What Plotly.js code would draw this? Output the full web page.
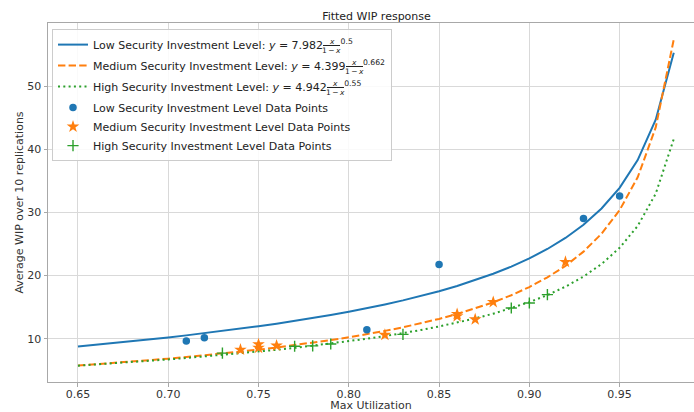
<!DOCTYPE html>
<html>
<head>
<meta charset="utf-8">
<script src="https://cdn.plot.ly/plotly-3.0.1.min.js"></script>
<style>html,body{margin:0;padding:0;background:#fff;}#chart{width:694px;height:412px;}</style>
</head>
<body>
<div id="chart"></div>
<script>
// Fitted curve sample points
const fitX = [0.65,0.66,0.67,0.68,0.69,0.70,0.71,0.72,0.73,0.74,0.75,0.76,0.77,0.78,0.79,0.80,0.81,0.82,0.83,0.84,0.85,0.86,0.87,0.88,0.89,0.90,0.91,0.92,0.93,0.94,0.95,0.96,0.97,0.98];
const lowFit = [8.77,9.04,9.31,9.60,9.89,10.20,10.52,10.86,11.21,11.58,11.97,12.38,12.82,13.27,13.76,14.28,14.83,15.43,16.07,16.76,17.52,18.35,19.26,20.28,21.42,22.72,24.21,25.96,28.06,30.63,33.91,38.31,44.70,55.31];
const medFit = [5.73,5.93,6.14,6.36,6.59,6.83,7.09,7.36,7.64,7.94,8.26,8.60,8.96,9.35,9.77,10.21,10.70,11.23,11.80,12.43,13.13,13.90,14.77,15.76,16.88,18.18,19.71,21.54,23.79,26.63,30.37,35.57,43.48,57.45];
const highFit = [5.72,5.90,6.09,6.29,6.49,6.71,6.93,7.17,7.41,7.67,7.95,8.23,8.54,8.87,9.21,9.58,9.98,10.41,10.87,11.37,11.93,12.53,13.21,13.96,14.81,15.78,16.91,18.24,19.84,21.83,24.39,27.86,32.98,41.65];

// Observed data points
const lowX = [0.71,0.72,0.81,0.85,0.93,0.95];
const lowY = [9.62,10.16,11.43,21.75,29.05,32.63];
const medX = [0.74,0.75,0.75,0.76,0.82,0.86,0.86,0.87,0.88,0.92];
const medY = [8.25,9.10,8.55,8.90,10.60,13.90,13.55,13.06,15.80,22.16];
const highX = [0.73,0.77,0.78,0.79,0.83,0.89,0.90,0.91];
const highY = [7.70,8.80,8.85,9.15,10.68,14.86,15.65,16.98];

// Legend texts (fraction x / (1 - x) is typeset into the gap after the coefficient)
const levelNames = ['Low','Medium','High'];
const coefs = ['7.982','4.399','4.942'];
const exps = ['0.5','0.662','0.55'];
const GAP = '\u00a0\u00a0\u00a0\u00a0\u00a0';
const fitNames = levelNames.map((l,i) => l + ' Security Investment Level: <i>y</i> = ' + coefs[i] + GAP + '<sup>' + exps[i] + '</sup>');
const pointNames = levelNames.map(l => l + ' Security Investment Level Data Points');
const colors = ['#1f77b4','#ff7f0e','#2ca02c'];

const traces = [
  {x: fitX, y: lowFit, mode:'lines', name:fitNames[0], legendgroup:'f0', line:{color:colors[0], width:2}},
  {x: fitX, y: medFit, mode:'lines', name:fitNames[1], legendgroup:'f1', line:{color:colors[1], width:2, dash:'7.4px,3.2px'}},
  {x: fitX, y: highFit, mode:'lines', name:fitNames[2], legendgroup:'f2', line:{color:colors[2], width:2, dash:'2px,3.3px'}},
  {x: lowX, y: lowY, mode:'markers', name:pointNames[0], legendgroup:'pts', marker:{color:colors[0], size:7.5, symbol:'circle'}},
  {x: medX, y: medY, mode:'markers', name:pointNames[1], legendgroup:'pts', marker:{color:colors[1], size:9.5, symbol:'star', line:{width:0}}},
  {x: highX, y: highY, mode:'markers', name:pointNames[2], legendgroup:'pts', marker:{color:colors[2], size:8, symbol:'cross-thin', line:{color:colors[2], width:1.4}}}
];

const axisCommon = {
  showgrid:true, gridcolor:'#d9d9d9', gridwidth:1,
  showline:true, linecolor:'#a8a8a8', linewidth:1,
  ticks:'outside', ticklen:3.5, tickcolor:'#a8a8a8', tickwidth:1,
  zeroline:false, tickfont:{size:11, color:'#333'}
};

const layout = {
  width:694, height:412,
  margin:{l:48, r:0, t:23, b:30, pad:0},
  paper_bgcolor:'#ffffff', plot_bgcolor:'#ffffff',
  font:{family:'DejaVu Sans, sans-serif', size:11, color:'#333'},
  title:{text:'Fitted WIP response', x:0.5085, xref:'paper', xanchor:'center', y:0.961, yref:'container', yanchor:'middle', font:{size:11, color:'#222'}},
  xaxis: Object.assign({}, axisCommon, {
    range:[0.6334,0.9912], tickmode:'array',
    tickvals:[0.65,0.70,0.75,0.80,0.85,0.90,0.95],
    ticktext:['0.65','0.70','0.75','0.80','0.85','0.90','0.95'],
    mirror:true, ticklabelstandoff:-2,
    title:{text:'Max Utilization', font:{size:11, color:'#333'}, standoff:6}
  }),
  yaxis: Object.assign({}, axisCommon, {
    range:[3.13,60.03], tickmode:'array', tickvals:[10,20,30,40,50],
    title:{text:'Average WIP over 10 replications', font:{size:11, color:'#333'}, standoff:1}
  }),
  legend:{x:0.0062, y:0.983, xanchor:'left', yanchor:'top',
    bgcolor:'rgba(255,255,255,0.85)', bordercolor:'#cccccc', borderwidth:1,
    font:{size:11, color:'#222'}, tracegroupgap:2},
  showlegend:true
};

Plotly.newPlot('chart', traces, layout, {staticPlot:true, displayModeBar:false}).then(gd => {
  const sz = gd._fullLayout._size;
  const box = gd.getBoundingClientRect();
  const toPaper = (X, Y) => [(X - box.left - sz.l) / sz.w, 1 - (Y - box.top - sz.t) / sz.h];
  const texts = gd.querySelectorAll('.legend .traces .legendtext');
  const anns = [];
  for (let i = 0; i < 3 && i < texts.length; i++) {
    const t = texts[i];
    const s = t.textContent;
    const i0 = s.indexOf('\u00a0'), i1 = s.lastIndexOf('\u00a0');
    if (i0 < 0) continue;
    let p0, p1;
    try { p0 = t.getStartPositionOfChar(i0); p1 = t.getEndPositionOfChar(i1); } catch (e) { continue; }
    const m = t.getScreenCTM();
    const tr = p => [m.a*p.x + m.c*p.y + m.e, m.b*p.x + m.d*p.y + m.f];
    const a = tr(p0), b = tr(p1);
    const cx = (a[0] + b[0]) / 2, base = a[1];
    const w = b[0] - a[0] - 1;
    const num = toPaper(cx, base - 7.2);
    const bar = toPaper(cx, base - 3.6);
    const den = toPaper(cx, base + 1.2);
    const f = {size:7.5, color:'#222', family:'DejaVu Sans, sans-serif'};
    anns.push({xref:'paper', yref:'paper', x:num[0], y:num[1], xanchor:'center', yanchor:'middle', showarrow:false, text:'<i>x</i>', font:f});
    anns.push({xref:'paper', yref:'paper', x:den[0], y:den[1], xanchor:'center', yanchor:'middle', showarrow:false, text:'1\u2009\u2212\u2009<i>x</i>', font:f});
    anns.push({xref:'paper', yref:'paper', x:bar[0], y:bar[1], xanchor:'center', yanchor:'middle', showarrow:false, text:' ', font:{size:1}, width:w, height:0.8, borderpad:0, borderwidth:0, bgcolor:'#222'});
  }
  return Plotly.relayout(gd, {annotations: anns});
});
</script>
</body>
</html>
